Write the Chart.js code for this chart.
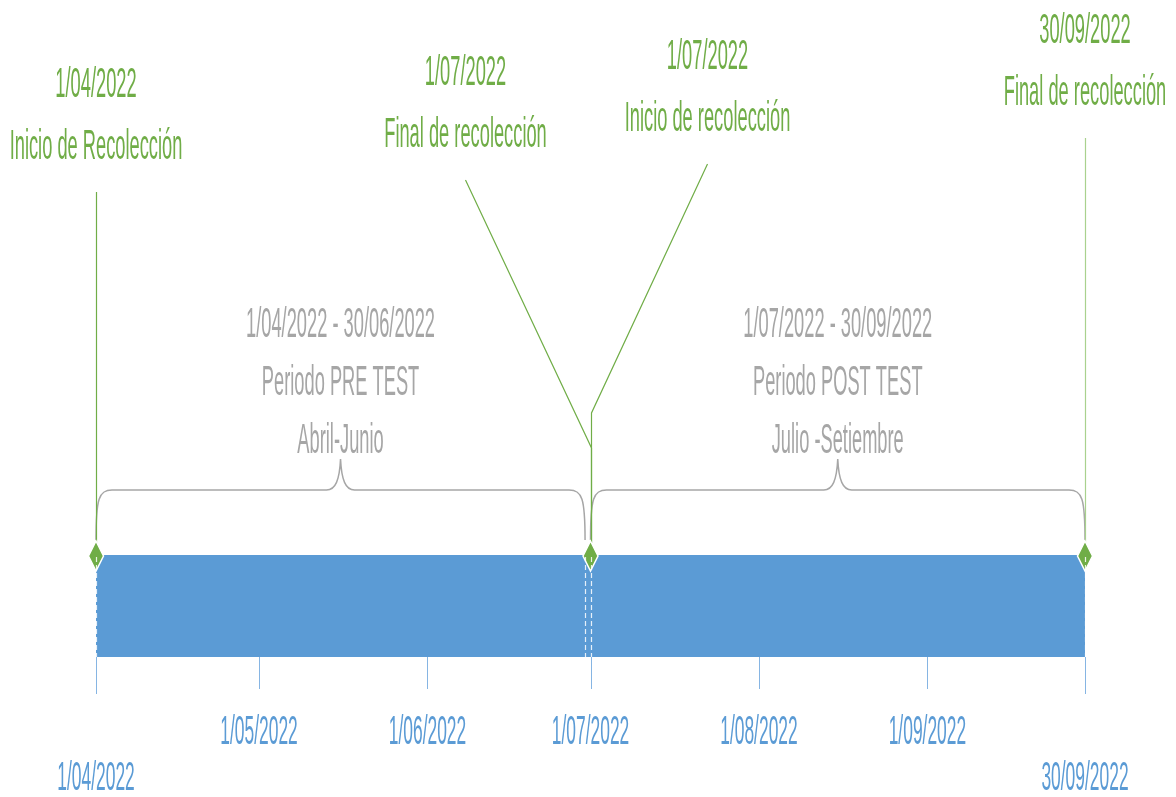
<!DOCTYPE html>
<html lang="es">
<head>
<meta charset="utf-8">
<title>Cronograma de recolección 2022</title>
<script src="https://cdn.jsdelivr.net/npm/chart.js@4.4.1/dist/chart.umd.min.js"></script>
<style>
  html, body { margin: 0; padding: 0; background: #ffffff; }
  #wrap { width: 1176px; height: 797px; }
  canvas { display: block; }
</style>
</head>
<body>
<div id="wrap"><canvas id="timeline" width="1176" height="797"></canvas></div>
<script>
// ---- Timeline data ----
const originDate = '2022-04-01';

// Phases (bars)
const phaseStart = ['2022-04-01', '2022-07-01'];
const phaseEnd   = ['2022-06-30', '2022-09-30'];
const phaseRange = ['1/04/2022 - 30/06/2022', '1/07/2022 - 30/09/2022'];
const phaseName  = ['Periodo PRE TEST', 'Periodo POST TEST'];
const phaseMonths = ['Abril-Junio', 'Julio -Setiembre'];

// Milestones (diamonds)
const milestoneDate  = ['2022-04-01', '2022-07-01', '2022-07-01', '2022-09-30'];
const milestoneDateText = ['1/04/2022', '1/07/2022', '1/07/2022', '30/09/2022'];
const milestoneTitle = ['Inicio de Recolección', 'Final de recolección', 'Inicio de recolección', 'Final de recolección'];

// Axis ticks
const tickDate  = ['2022-04-01', '2022-05-01', '2022-06-01', '2022-07-01', '2022-08-01', '2022-09-01', '2022-09-30'];
const tickLabel = ['1/04/2022', '1/05/2022', '1/06/2022', '1/07/2022', '1/08/2022', '1/09/2022', '30/09/2022'];

// ---- helpers ----
function dayIndex(iso) {
  const [y, m, d] = iso.split('-').map(Number);
  const [y0, m0, d0] = originDate.split('-').map(Number);
  return (Date.UTC(y, m - 1, d) - Date.UTC(y0, m0 - 1, d0)) / 86400000;
}

const GREEN = '#70AD47';
const GREEN_LIGHT = '#A9D18E';
const BLUE = '#5B9BD5';
const BLUE_TICK = '#86B5E3';
const GRAY = '#A6A6A6';
const FONT = '"Liberation Sans", Arial, "DejaVu Sans", sans-serif';
const SQUEEZE = 0.425;

// label placement per milestone (layout only)
const msLabelDx   = [0, -125, 117, 0];
const msLabelY    = [85, 73, 57, 31];
const msJoinY     = [null, 448, 413, null];
const msLineColor = [GREEN, GREEN, GREEN, GREEN_LIGHT];
const LINE_GAP = 62;

function squeezedText(ctx, str, x, y, size, color) {
  ctx.save();
  ctx.font = size + 'px ' + FONT;
  ctx.fillStyle = color;
  ctx.textAlign = 'center';
  ctx.textBaseline = 'middle';
  ctx.translate(x, y);
  ctx.scale(SQUEEZE, 1);
  ctx.fillText(str, 0, 0);
  ctx.restore();
}

function brace(ctx, L, R, yEnd, yMid, yPeak) {
  const C = (L + R) / 2;
  ctx.beginPath();
  ctx.moveTo(L, yEnd);
  ctx.bezierCurveTo(L, yMid + 8, L + 3, yMid, L + 16, yMid);
  ctx.lineTo(C - 14, yMid);
  ctx.bezierCurveTo(C - 5, yMid, C - 1, yMid - 10, C, yPeak);
  ctx.bezierCurveTo(C + 1, yMid - 10, C + 5, yMid, C + 14, yMid);
  ctx.lineTo(R - 16, yMid);
  ctx.bezierCurveTo(R - 3, yMid, R, yMid + 8, R, yEnd);
  ctx.stroke();
}

// Draws milestones, braces, annotations and the axis on top of the bars
const timelineDecor = {
  id: 'timelineDecor',
  afterDatasetsDraw(chart) {
    const ctx = chart.ctx;
    const xs = chart.scales.x;
    const area = chart.chartArea;
    const px = (iso) => xs.getPixelForValue(dayIndex(iso));

    // axis tick marks and labels
    ctx.save();
    ctx.strokeStyle = BLUE_TICK;
    ctx.lineWidth = 1;
    tickDate.forEach((d, i) => {
      const edge = (i === 0 || i === tickDate.length - 1);
      const x = Math.round(px(d)) + 0.5;
      ctx.beginPath();
      ctx.moveTo(x, area.bottom);
      ctx.lineTo(x, area.bottom + (edge ? 37 : 32));
      ctx.stroke();
      squeezedText(ctx, tickLabel[i], px(d), edge ? 779 : 733, 41, BLUE);
    });
    ctx.restore();

    // braces and phase texts
    ctx.save();
    ctx.strokeStyle = GRAY;
    ctx.lineWidth = 1.5;
    phaseStart.forEach((s, i) => {
      const L = px(s), R = px(phaseEnd[i]);
      brace(ctx, L, R, area.top - 15, 490, 459);
      const c = (L + R) / 2;
      squeezedText(ctx, phaseRange[i], c, 325, 43, GRAY);
      squeezedText(ctx, phaseName[i], c, 383, 43, GRAY);
      squeezedText(ctx, phaseMonths[i], c, 441, 43, GRAY);
    });
    ctx.restore();

    // milestone connectors and texts
    milestoneDate.forEach((d, i) => {
      const x = Math.round(px(d)) + 0.5;
      const lx = px(d) + msLabelDx[i];
      const top = msLabelY[i] + LINE_GAP + 45;
      ctx.save();
      ctx.strokeStyle = msLineColor[i];
      ctx.lineWidth = 1.2;
      ctx.beginPath();
      if (msJoinY[i] === null) {
        ctx.moveTo(x, top);
        ctx.lineTo(x, area.top - 12);
      } else {
        ctx.moveTo(lx, top);
        ctx.lineTo(x, msJoinY[i]);
        ctx.lineTo(x, area.top - 12);
      }
      ctx.stroke();
      ctx.restore();
      squeezedText(ctx, milestoneDateText[i], lx, msLabelY[i], 43, GREEN);
      squeezedText(ctx, milestoneTitle[i], lx, msLabelY[i] + LINE_GAP, 43, GREEN);
    });

    // diamonds
    const seen = new Set();
    milestoneDate.forEach((d) => {
      if (seen.has(d)) return;
      seen.add(d);
      const x = px(d), y = area.top + 1;
      ctx.save();
      ctx.beginPath();
      ctx.moveTo(x, y - 15);
      ctx.lineTo(x + 7.5, y);
      ctx.lineTo(x, y + 15);
      ctx.lineTo(x - 7.5, y);
      ctx.closePath();
      ctx.fillStyle = GREEN;
      ctx.fill();
      ctx.strokeStyle = '#ffffff';
      ctx.lineWidth = 1.5;
      ctx.stroke();
      ctx.restore();
    });

    // dashed phase boundaries
    ctx.save();
    ctx.strokeStyle = 'rgba(255,255,255,0.85)';
    ctx.lineWidth = 1.2;
    ctx.setLineDash([5, 3]);
    const bounds = [];
    phaseStart.forEach((s, i) => { bounds.push(s, phaseEnd[i]); });
    bounds.forEach((d) => {
      const x = Math.round(px(d)) + 0.5;
      ctx.beginPath();
      ctx.moveTo(x, area.top + 2);
      ctx.lineTo(x, area.bottom);
      ctx.stroke();
    });
    ctx.restore();
  }
};

const totalDays = dayIndex(phaseEnd[phaseEnd.length - 1]);

new Chart(document.getElementById('timeline'), {
  type: 'bar',
  data: {
    labels: ['Recolección'],
    datasets: phaseStart.map((s, i) => ({
      label: phaseName[i],
      // each phase covers its days inclusively
      data: [[dayIndex(s), dayIndex(phaseEnd[i]) + 1]],
      backgroundColor: BLUE,
      borderWidth: 0,
      barPercentage: 1,
      categoryPercentage: 1,
      clip: 0
    }))
  },
  options: {
    indexAxis: 'y',
    responsive: false,
    animation: false,
    devicePixelRatio: 1,
    layout: { padding: { left: 96, right: 91, top: 555, bottom: 140 } },
    plugins: { legend: { display: false }, tooltip: { enabled: false } },
    scales: {
      x: { type: 'linear', min: 0, max: totalDays, display: false },
      y: { stacked: true, display: false }
    }
  },
  plugins: [timelineDecor]
});
</script>
</body>
</html>
